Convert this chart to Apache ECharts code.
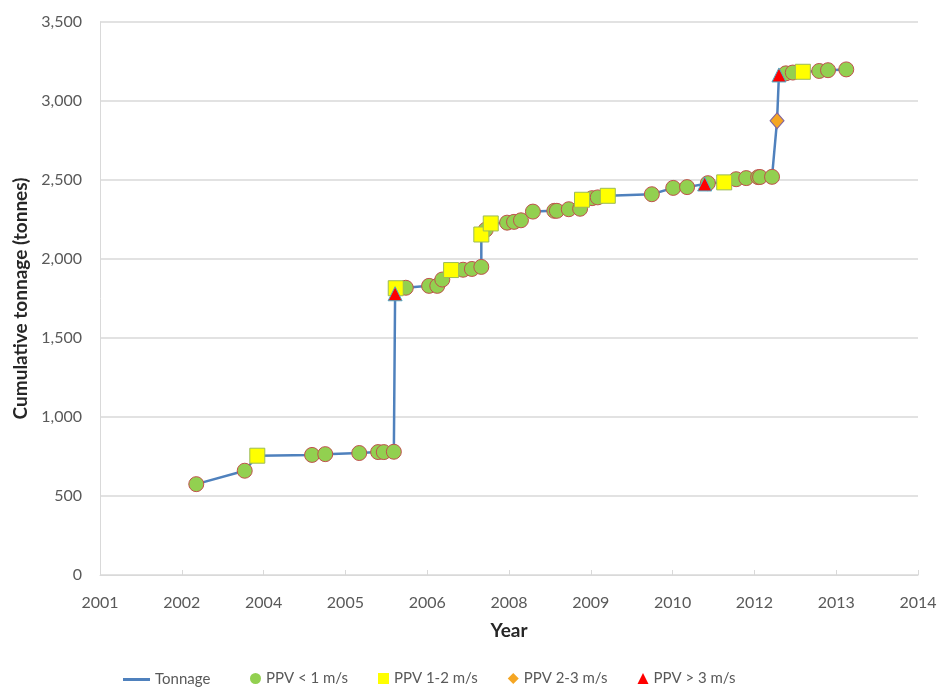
<!DOCTYPE html>
<html>
<head>
<meta charset="utf-8">
<script src="https://cdn.jsdelivr.net/npm/echarts@6/dist/echarts.min.js"></script>
<style>
  html, body { margin: 0; padding: 0; background: #fff; }
  #chart { width: 941px; height: 689px; }
</style>
</head>
<body>
<div id="chart"></div>
<script>
// blast record: date (decimal year), cumulative tonnage, PPV class
var years = [2003.18, 2003.95, 2004.15, 2005.02, 2005.23, 2005.77, 2006.07, 2006.16, 2006.32, 2006.34,
  2006.35, 2006.51, 2006.88, 2007.01, 2007.09, 2007.23, 2007.42, 2007.56, 2007.71, 2007.71,
  2007.78, 2007.86, 2008.12, 2008.23, 2008.34, 2008.53, 2008.87, 2008.91, 2009.10, 2009.28,
  2009.31, 2009.47, 2009.56, 2009.72, 2010.42, 2010.76, 2010.98, 2011.26, 2011.31, 2011.57,
  2011.76, 2011.92, 2012.11, 2012.14, 2012.33, 2012.41, 2012.44, 2012.55, 2012.66, 2012.82,
  2013.08, 2013.22, 2013.51];
var tonnage = [575, 660, 755, 760, 765, 772, 778, 778, 780, 1780,
  1815, 1818, 1830, 1830, 1870, 1930, 1932, 1937, 1950, 2155,
  2185, 2225, 2230, 2235, 2245, 2300, 2305, 2305, 2315, 2318,
  2375, 2385, 2390, 2400, 2410, 2450, 2455, 2475, 2480, 2485,
  2505, 2512, 2518, 2519, 2520, 2875, 3165, 3175, 3180, 3185,
  3190, 3195, 3200];
// 1: PPV < 1, 2: PPV 1-2, 3: PPV 2-3, 4: PPV > 3
var ppvClass = [1, 1, 2, 1, 1, 1, 1, 1, 1, 4,
  2, 1, 1, 1, 1, 2, 1, 1, 1, 2,
  1, 2, 1, 1, 1, 1, 1, 1, 1, 1,
  2, 1, 1, 2, 1, 1, 1, 4, 1, 2,
  1, 1, 1, 1, 1, 3, 4, 1, 1, 2,
  1, 1, 1];
var classNames = ['PPV < 1 m/s', 'PPV 1-2 m/s', 'PPV 2-3 m/s', 'PPV > 3 m/s'];

// excel date axis: starts mid 2001, major unit ~1.3 years
var axisStart = 2001.65;
var axisStep = 1.3;

function xOf(y) { return +(y - axisStart).toFixed(3); }

var linePts = years.map(function (y, i) { return [xOf(y), tonnage[i]]; });
function ptsOf(c) {
  var out = [];
  years.forEach(function (y, i) { if (ppvClass[i] === c) out.push([xOf(y), tonnage[i]]); });
  return out;
}

var font = 'Lato, "Liberation Sans", sans-serif';
var chart = echarts.init(document.getElementById('chart'));

chart.setOption({
  animation: false,
  textStyle: { fontFamily: font },
  grid: { left: 100, right: 23, top: 22, bottom: 114 },
  legend: [
    {
      data: [{ name: 'Tonnage', icon: 'rect' }],
      left: 118, top: 667,
      itemWidth: 27, itemHeight: 3,
      textStyle: { fontSize: 15, color: '#595959', fontFamily: font }
    },
    {
      data: classNames,
      left: 245, top: 666,
      itemWidth: 11, itemHeight: 11, itemGap: 30,
      itemStyle: { borderWidth: 0 },
      textStyle: { fontSize: 15, color: '#595959', fontFamily: font }
    }
  ],
  xAxis: {
    type: 'value',
    min: 0,
    max: axisStep * 10,
    interval: axisStep,
    name: 'Year',
    nameLocation: 'middle',
    nameGap: 46,
    nameTextStyle: { fontSize: 19, fontWeight: 'bold', color: '#262626', fontFamily: font },
    axisLine: { lineStyle: { color: '#d9d9d9', width: 1 } },
    axisTick: { show: true, inside: true, length: 5, lineStyle: { color: '#d9d9d9' } },
    splitLine: { show: false },
    axisLabel: {
      margin: 20, fontSize: 16, color: '#595959',
      formatter: function (v) { return String(Math.floor(v + axisStart + 1e-6)); }
    }
  },
  yAxis: {
    type: 'value',
    min: 0, max: 3500, interval: 500,
    name: 'Cumulative tonnage (tonnes)',
    nameLocation: 'middle',
    nameGap: 70,
    nameTextStyle: { fontSize: 19, fontWeight: 'bold', color: '#262626', fontFamily: font },
    axisLine: { show: true, lineStyle: { color: '#d9d9d9', width: 1 } },
    axisTick: { show: false },
    splitLine: { lineStyle: { color: '#d9d9d9', width: 1.5 } },
    axisLabel: {
      margin: 18, fontSize: 16, color: '#595959',
      formatter: function (v) { return v.toLocaleString('en-US'); }
    }
  },
  series: [
    {
      name: 'Tonnage', type: 'line', data: linePts,
      symbol: 'none', color: '#4f81bd',
      lineStyle: { width: 2.5, color: '#4f81bd' }, z: 2
    },
    {
      name: classNames[0], type: 'scatter', data: ptsOf(1),
      symbol: 'circle', symbolSize: 15,
      itemStyle: { color: '#92d050', borderColor: '#c0504d', borderWidth: 1, opacity: 1 }, z: 3
    },
    {
      name: classNames[1], type: 'scatter', data: ptsOf(2),
      symbol: 'rect', symbolSize: 15,
      itemStyle: { color: '#ffff00', borderColor: '#9bbb59', borderWidth: 1, opacity: 1 }, z: 4
    },
    {
      name: classNames[2], type: 'scatter', data: ptsOf(3),
      symbol: 'diamond', symbolSize: [14, 16],
      itemStyle: { color: '#f5a623', borderColor: '#8064a2', borderWidth: 1, opacity: 1 }, z: 5
    },
    {
      name: classNames[3], type: 'scatter', data: ptsOf(4),
      symbol: 'triangle', symbolSize: [14, 14],
      itemStyle: { color: '#ff0000', borderColor: '#4bacc6', borderWidth: 1, opacity: 1 }, z: 6
    }
  ]
});
</script>
</body>
</html>
